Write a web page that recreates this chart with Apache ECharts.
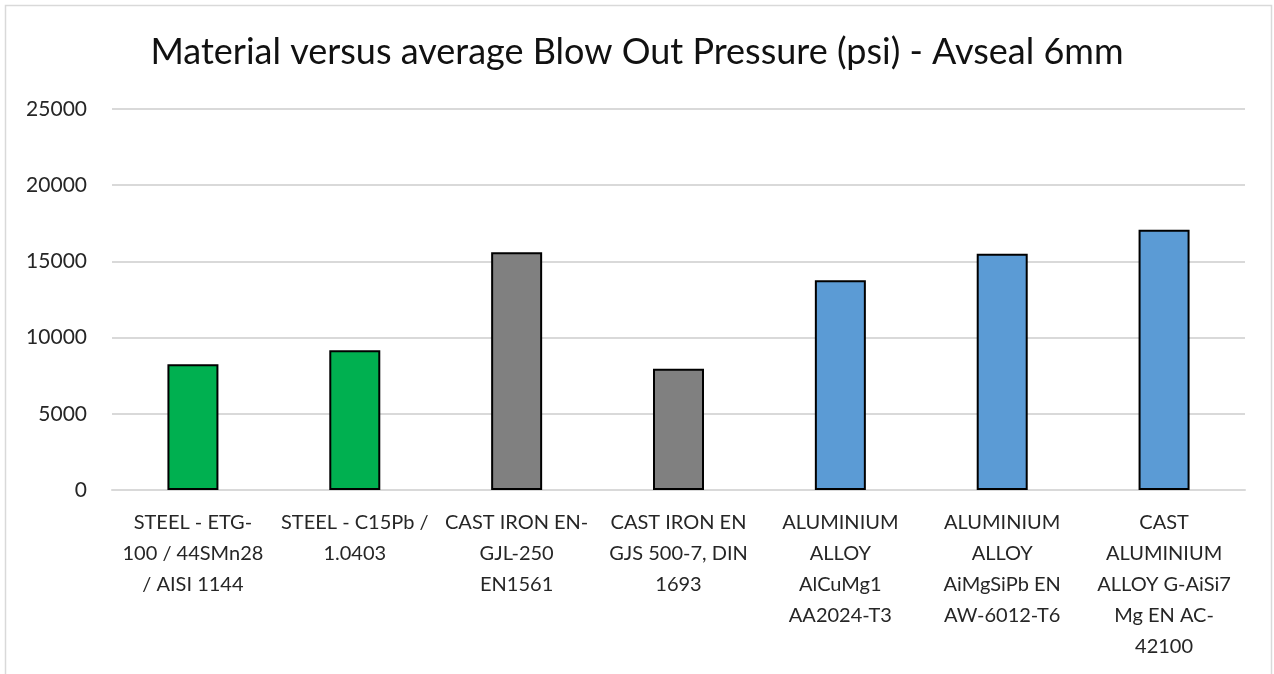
<!DOCTYPE html>
<html>
<head>
<meta charset="utf-8">
<script src="https://cdn.jsdelivr.net/npm/echarts@6/dist/echarts.min.js"></script>
<style>
html,body{margin:0;padding:0;background:#fff;}
#chart{width:1274px;height:674px;}
</style>
</head>
<body>
<div id="chart"></div>
<script>
const titleText = 'Material versus average Blow Out Pressure (psi) - Avseal 6mm';
const categories = [
  'STEEL - ETG-\n100 / 44SMn28\n/ AISI 1144',
  'STEEL - C15Pb /\n1.0403',
  'CAST IRON EN-\nGJL-250\nEN1561',
  'CAST IRON EN\nGJS 500-7, DIN\n1693',
  'ALUMINIUM\nALLOY\nAlCuMg1\nAA2024-T3',
  'ALUMINIUM\nALLOY\nAiMgSiPb EN\nAW-6012-T6',
  'CAST\nALUMINIUM\nALLOY G-AiSi7\nMg EN AC-\n42100'
];
const pressure = [8250, 9170, 15600, 7960, 13760, 15510, 17080];
const barColors = ['#00B050', '#00B050', '#808080', '#808080', '#5B9BD5', '#5B9BD5', '#5B9BD5'];
const yTicks = { min: 0, max: 25000, interval: 5000 };

const FONT = 'Lato';
const chart = echarts.init(document.getElementById('chart'), null, { renderer: 'canvas' });
chart.setOption({
  backgroundColor: '#fff',
  animation: false,
  title: {
    text: titleText,
    left: 'center',
    top: 29,
    textStyle: { fontFamily: FONT, fontSize: 36, fontWeight: 'normal', color: '#111' }
  },
  graphic: [{
    type: 'rect',
    shape: { x: 5.5, y: 5.5, width: 1266, height: 700 },
    style: { fill: 'none', stroke: '#D9D9D9', lineWidth: 1.5 },
    silent: true
  }],
  grid: { left: 112, right: 29, top: 109, bottom: 184, containLabel: false },
  xAxis: {
    type: 'category',
    data: categories,
    axisLine: { show: true, lineStyle: { color: '#D9D9D9', width: 2 } },
    axisTick: { show: false },
    axisLabel: {
      interval: 0,
      margin: 17,
      fontFamily: FONT,
      fontSize: 20,
      lineHeight: 31,
      color: '#262626',
      align: 'center',
      verticalAlign: 'top'
    }
  },
  yAxis: {
    type: 'value',
    min: yTicks.min,
    max: yTicks.max,
    interval: yTicks.interval,
    axisLine: { show: false },
    axisTick: { show: false },
    splitLine: { lineStyle: { color: '#D9D9D9', width: 2 } },
    axisLabel: { margin: 25, fontFamily: FONT, fontSize: 21, color: '#262626', formatter: v => String(v) }
  },
  series: [{
    type: 'bar',
    barWidth: 51,
    data: pressure.map((v, i) => ({
      value: v,
      itemStyle: { color: barColors[i], borderColor: '#000', borderWidth: 2 }
    }))
  }]
});
</script>
</body>
</html>
